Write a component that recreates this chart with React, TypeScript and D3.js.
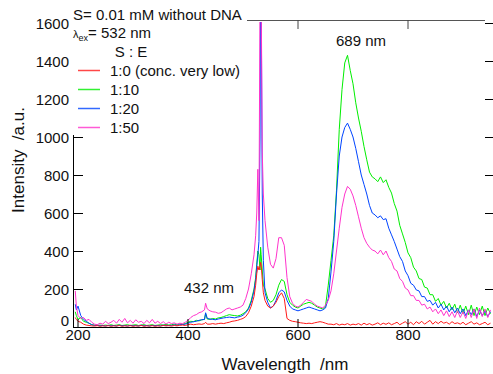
import React from "react";
import * as d3 from "d3";

// Wavelength grid (nm)
const wavelengths = [
  195, 197,
  200, 205, 210, 215, 220, 225, 230, 235, 240, 245,
  250, 255, 260, 265, 270, 275, 280, 285, 290, 295,
  300, 305, 310, 315, 320, 325, 330, 335, 340, 345,
  350, 355, 360, 365, 370, 375, 380, 385, 390, 395,
  400, 405, 410, 415, 420, 425, 430,
  432,
  435, 440, 445, 450, 455, 460, 465, 470, 475, 480, 485, 490, 495, 500, 505, 510, 515, 520,
  523, 525, 527, 529, 531, 532, 533, 535, 537,
  540, 545, 550, 555, 560, 565, 570, 575, 580, 585,
  590, 595, 600, 605, 610, 615, 620, 625, 630, 635,
  640, 645, 650, 655, 660, 665, 670, 675, 680, 685,
  690, 695, 700, 705, 710, 715, 720, 725, 730, 735,
  740, 745, 750, 755, 760, 765, 770, 775, 780, 785,
  790, 795, 800, 805, 810, 815, 820, 825, 830, 835,
  840, 845, 850, 855, 860, 865, 870, 875, 880, 885,
  890, 895, 900, 905, 910, 915, 920, 925, 930, 935,
  940, 945, 950,
];

// 1:0 (conc. very low)
const seriesRed = [
  50, 40,
  30, 25, 15, 10, 8, 6, 5, 7, 4, 6,
  5, 7, 4, 6, 5, 8, 4, 6, 5, 7,
  4, 6, 5, 8, 4, 6, 5, 7, 4, 6,
  5, 8, 6, 7, 5, 8, 6, 9, 10, 8,
  12, 15, 12, 14, 16, 14, 18,
  25,
  15, 15, 18, 15, 18, 20, 18, 22, 25, 30, 32, 35, 40, 45, 55, 75, 110, 160,
  220, 280, 320, 300, 320, 340, 330, 250, 180,
  140, 110, 100, 110, 130, 160, 180, 150, 45, 35,
  30, 28, 25, 22, 20, 18, 20, 18, 22, 25,
  28, 25, 20, 15, 15, 12, 18, 10, 15, 12,
  18, 10, 15, 12, 18, 10, 20, 12, 18, 10,
  15, 22, 12, 20, 14, 22, 12, 18, 25, 12,
  20, 28, 15, 25, 12, 28, 18, 30, 15, 25,
  35, 15, 28, 18, 30, 20, 25, 15, 28, 18,
  22, 15, 25, 12, 20, 28, 15, 22, 12, 18,
  25, 12, 20,
];

// 1:10
const seriesGreen = [
  80, 60,
  40, 50, 30, 25, 20, 12, 10, 8, 10, 8,
  10, 8, 12, 8, 10, 12, 8, 10, 12, 8,
  10, 12, 8, 10, 12, 8, 10, 12, 8, 10,
  12, 10, 14, 10, 12, 15, 12, 16, 14, 18,
  25, 30, 28, 35, 32, 38, 40,
  70,
  42, 40, 45, 42, 48, 50, 55, 60, 65, 62, 60, 58, 62, 70, 80, 100, 140, 200,
  260, 330, 400, 380, 300, 420, 380, 300, 220,
  200, 150, 130, 140, 170, 220, 250, 240, 170, 130,
  115, 105, 100, 110, 120, 125, 130, 125, 115, 105,
  100, 95, 110, 220, 350, 480, 720, 1040, 1250, 1390,
  1430, 1350, 1280, 1180, 1100, 1030, 950, 880, 815, 790,
  780, 765, 790, 760, 775, 735, 705, 650, 610, 535,
  490, 445, 390, 365, 315, 295, 255, 250, 210, 205,
  170, 170, 135, 150, 115, 135, 100, 125, 90, 120,
  75, 115, 70, 110, 65, 115, 60, 105, 65, 110,
  60, 100, 70,
];

// 1:20
const seriesBlue = [
  120, 90,
  110, 60, 40, 30, 20, 12, 8, 10, 6, 8,
  5, 9, 6, 8, 5, 10, 6, 8, 5, 9,
  6, 8, 5, 10, 6, 8, 5, 9, 6, 8,
  6, 10, 7, 9, 8, 11, 9, 12, 13, 15,
  20, 25, 28, 30, 35, 38, 40,
  75,
  45, 42, 40, 38, 42, 45, 48, 50, 52, 50, 48, 52, 55, 62, 75, 95, 130, 190,
  250, 320, 380, 450, 1000, 1800, 1800, 700, 350,
  180, 130, 100, 110, 140, 180, 195, 185, 140, 110,
  95, 90, 85, 90, 95, 100, 105, 100, 95, 90,
  85, 90, 100, 150, 290, 450, 700, 900, 1000, 1050,
  1073, 1040, 1000, 940, 870, 800, 750, 700, 640, 600,
  590, 575, 585, 565, 570, 520, 485, 450, 410, 370,
  345, 295, 270, 230, 220, 195, 190, 160, 160, 135,
  140, 115, 130, 100, 120, 90, 110, 80, 105, 75,
  100, 70, 95, 60, 90, 65, 95, 55, 90, 60,
  85, 55, 80,
];

// 1:50
const seriesMagenta = [
  190, 110,
  60, 45, 50, 35, 40, 25, 15, 12, 20, 15,
  30, 18, 25, 35, 20, 40, 25, 45, 22, 35,
  20, 38, 25, 30, 18, 35, 22, 40, 20, 30,
  18, 28, 15, 25, 18, 22, 15, 20, 18, 25,
  35, 50, 60, 65, 75, 80, 90,
  125,
  95, 85, 80, 78, 72, 75, 85, 95, 100, 90, 95, 100, 105, 115, 150, 200, 280, 380,
  480, 600, 830, 560, 1800, 1800, 1800, 920, 700,
  560, 420, 330, 310, 360, 470, 470, 430, 260, 160,
  125, 110, 105, 115, 130, 145, 140, 135, 120, 110,
  105, 100, 115, 140, 190, 280, 400, 520, 630, 700,
  740, 725, 690, 640, 580, 520, 470, 440, 420, 405,
  400, 385, 405, 380, 400, 365, 345, 305, 295, 255,
  240, 205, 195, 165, 165, 140, 140, 115, 120, 95,
  105, 80, 95, 70, 90, 60, 85, 55, 80, 50,
  85, 50, 80, 45, 90, 50, 95, 45, 100, 55,
  95, 50, 90,
];

const seriesNames = ["1:0 (conc. very low)", "1:10", "1:20", "1:50"];
const seriesColors = ["#ff1a1a", "#00ee00", "#0044ff", "#ff33cc"];
const xTicks = [200, 400, 600, 800];
const yTicks = [0, 200, 400, 600, 800, 1000, 1200, 1400, 1600];

const W = 493;
const H = 374;
const FONT = "'Liberation Sans', Arial, Helvetica, sans-serif";

export default function App() {
  const x = d3.scaleLinear().domain([200, 800]).range([78, 408]);
  const y = d3.scaleLinear().domain([0, 1600]).range([327, 23]);
  const left = 74;
  const right = 493;
  const top = 20;
  const bottom = 327;

  const allSeries = [seriesRed, seriesGreen, seriesBlue, seriesMagenta];
  const drawOrder = [1, 2, 3, 0];

  const line = d3
    .line<number>()
    .x((_, i) => x(wavelengths[i]))
    .y((d) => y(d));

  return (
    <svg
      width={W}
      height={H}
      style={{ position: "absolute", left: 0, top: 0, background: "#fff" }}
      fontFamily={FONT}
    >
      <defs>
        <clipPath id="plotClip">
          <rect x={left} y={top + 2} width={right - left} height={bottom - top - 2} />
        </clipPath>
      </defs>

      {/* data */}
      <g clipPath="url(#plotClip)">
        {drawOrder.map((si) => (
          <path
            key={si}
            d={line(allSeries[si]) || ""}
            fill="none"
            stroke={seriesColors[si]}
            strokeWidth={1}
            strokeLinejoin="round"
          />
        ))}
      </g>

      {/* axes frame */}
      <line x1={left} x2={right} y1={bottom + 0.5} y2={bottom + 0.5} stroke="#000" strokeWidth={1} />
      <line x1={left - 0.5} x2={left - 0.5} y1={top} y2={bottom + 1} stroke="#000" strokeWidth={1} />
      <line x1={left} x2={485} y1={top + 0.5} y2={top + 0.5} stroke="#555" strokeWidth={1} />

      {/* bottom & top ticks */}
      {xTicks.map((t) => (
        <g key={"xt" + t}>
          <line x1={x(t)} x2={x(t)} y1={bottom} y2={bottom - 8} stroke="#000" />
          <line x1={x(t)} x2={x(t)} y1={top} y2={top + 9} stroke="#444" />
          <text x={x(t)} y={340} fontSize={15} textAnchor="middle" fill="#111">
            {t}
          </text>
        </g>
      ))}

      {/* left & right ticks */}
      {yTicks.map((t) => (
        <g key={"yt" + t}>
          <line x1={left} x2={left + 9} y1={y(t) + 0.5} y2={y(t) + 0.5} stroke="#000" />
          <line x1={485} x2={493} y1={y(t) + 0.5} y2={y(t) + 0.5} stroke="#000" />
          <text x={69} y={y(t) + 5.5 - (t === 0 ? 7 : 0)} fontSize={15} textAnchor="end" fill="#111">
            {t}
          </text>
        </g>
      ))}

      {/* legend box (white, covers the axis corner) */}
      <rect x={71} y={0} width={176} height={135} fill="#fff" />
      <text x={73} y={20} fontSize={15} fill="#111">
        S= 0.01 mM without DNA
      </text>
      <text x={73} y={38} fontSize={15} fill="#111">
        <tspan fontSize={11}>λ</tspan>
        <tspan fontSize={9} dy={3}>ex</tspan>
        <tspan dy={-3}>= 532 nm</tspan>
      </text>
      <text x={131} y={57} fontSize={15} textAnchor="middle" fill="#111">
        S : E
      </text>
      {seriesNames.map((name, i) => {
        const ly = 70 + i * 19;
        return (
          <g key={name}>
            <line x1={78} x2={100} y1={ly + 0.5} y2={ly + 0.5} stroke={seriesColors[i]} strokeWidth={1.5} opacity={0.8} />
            <text x={110} y={ly + 5.5} fontSize={15} fill="#111">
              {name}
            </text>
          </g>
        );
      })}

      {/* annotations */}
      <text x={361} y={46} fontSize={15} textAnchor="middle" fill="#111">
        689 nm
      </text>
      <text x={209} y={293} fontSize={15} textAnchor="middle" fill="#111">
        432 nm
      </text>

      {/* axis titles */}
      <text x={285} y={370} fontSize={17} textAnchor="middle" fill="#111" style={{ whiteSpace: "pre" }}>
        {"Wavelength  /nm"}
      </text>
      <text
        transform="translate(24,160) rotate(-90)"
        fontSize={17}
        textAnchor="middle"
        fill="#111"
        style={{ whiteSpace: "pre" }}
      >
        {"Intensity  /a.u."}
      </text>
    </svg>
  );
}
